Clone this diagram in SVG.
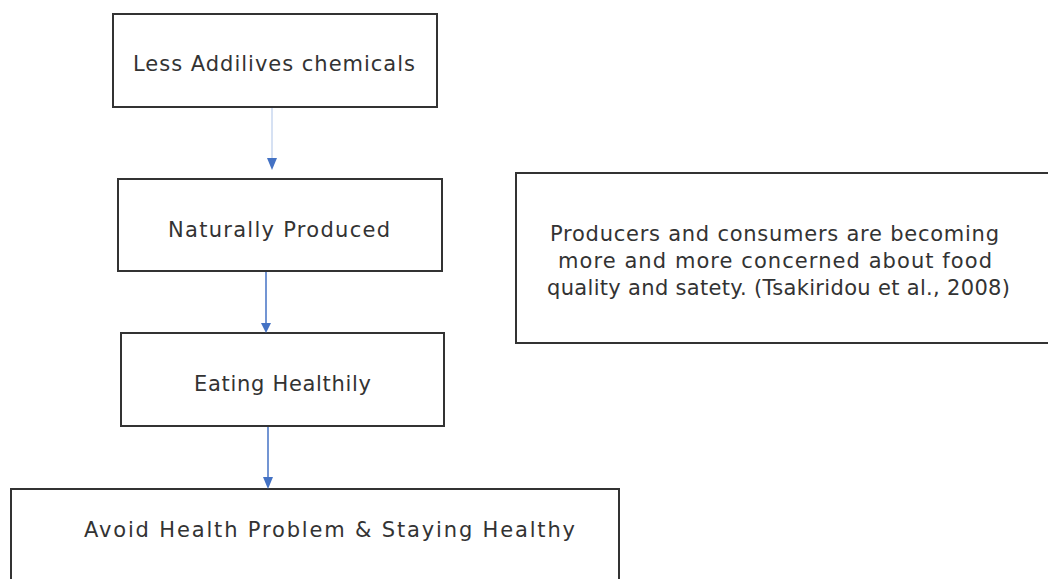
<svg xmlns="http://www.w3.org/2000/svg" width="1048" height="579" viewBox="0 0 1048 579">
<style>
.box{fill:#fff;stroke:#333;stroke-width:2}
.t{font-family:"DejaVu Sans","Liberation Sans",Arial,sans-serif;font-size:21px;fill:#333}
.ln{stroke:#4472C4;stroke-width:1.5;fill:none}
.ah{fill:#4472C4}
</style>
<rect width="1048" height="579" fill="#fff"/>
<g id="n1"><rect class="box" x="113" y="14" width="324" height="93"/><text class="t" x="133" y="71" textLength="282">Less Addilives chemicals</text></g>
<g id="n2"><rect class="box" x="118" y="179" width="324" height="92"/><text class="t" x="168" y="237" textLength="222">Naturally Produced</text></g>
<g id="n3"><rect class="box" x="121" y="333" width="323" height="93"/><text class="t" x="194" y="391" textLength="177">Eating Healthily</text></g>
<g id="n4"><rect class="box" x="11" y="489" width="608" height="100"/><text class="t" x="84" y="537" textLength="491">Avoid Health Problem &amp; Staying Healthy</text></g>
<g id="n5"><rect class="box" x="516" y="173" width="540" height="170"/>
<text class="t" x="550" y="241" textLength="449">Producers and consumers are becoming</text>
<text class="t" x="558" y="268" textLength="434">more and more concerned about food</text>
<text class="t" x="547" y="295" textLength="463">quality and satety. (Tsakiridou et al., 2008)</text></g>
<g id="connectors">
<line x1="272" y1="108" x2="272" y2="160" stroke="#c9d7ef" stroke-width="1.5"/>
<polygon class="ah" points="267,158 277,158 272,170"/>
<line class="ln" x1="266" y1="272" x2="266" y2="326"/>
<polygon class="ah" points="261,323 271,323 266,333"/>
<line class="ln" x1="268" y1="427" x2="268" y2="480"/>
<polygon class="ah" points="263,477 273,477 268,489"/>
</g>
</svg>
